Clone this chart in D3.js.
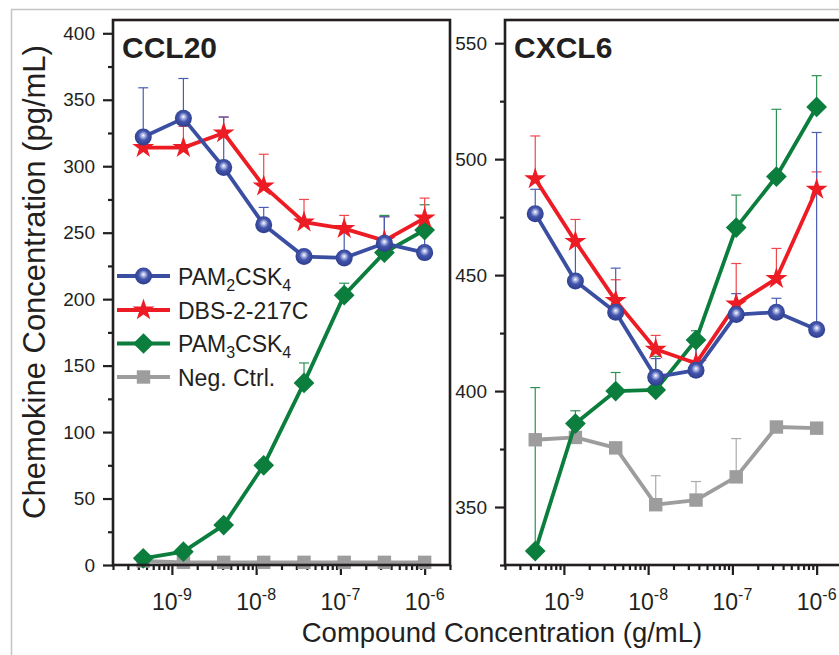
<!DOCTYPE html>
<html>
<head>
<meta charset="utf-8">
<script src="https://cdn.jsdelivr.net/npm/d3@7/dist/d3.min.js"></script>
<style>
  body { margin: 0; background: #fff; }
  svg { display: block; }
  text { font-family: "Liberation Sans", Arial, Helvetica, sans-serif; fill: #231f20; }
</style>
</head>
<body>
<svg id="chart" width="839" height="655"></svg>
<script>
// Three-fold dilution series of the compounds (g/mL)
const concentrations = [4.57e-10, 1.37e-9, 4.12e-9, 1.23e-8, 3.7e-8, 1.11e-7, 3.33e-7, 1e-6];

// CCL20 (pg/mL): means and upper SD
const ccl20Pam2 = [322, 336, 299, 256, 232, 231, 242, 235];
const ccl20Pam2Sd = [37, 30, 38, 13, 4, 24, 20, 27];
const ccl20Dbs = [314, 314, 325, 285, 258, 253, 244, 261];
const ccl20DbsSd = [11, 16, 12, 24, 17, 10, 18, 15];
const ccl20Pam3 = [5, 10, 30, 75, 137, 203, 235, 252];
const ccl20Pam3Sd = [2, 2, 3, 4, 15, 9, 28, 19];
const ccl20Neg = [3, 2, 2, 2, 2, 2, 2, 2];
const ccl20NegSd = [1, 1, 1, 1, 1, 1, 1, 1];

// CXCL6 (pg/mL): means and upper SD
const cxcl6Pam2 = [476.5, 447.5, 434, 406, 409, 433, 434, 426.5];
const cxcl6Pam2Sd = [10.5, 17.5, 19, 8, 12, 9, 6, 85];
const cxcl6Dbs = [491.5, 464.5, 439, 418, 412, 437.5, 448.5, 487];
const cxcl6DbsSd = [18.5, 9.5, 9, 6, 8, 17.5, 13, 7.5];
const cxcl6Pam3 = [331, 386, 400, 400.5, 422, 470.5, 492.5, 522.5];
const cxcl6Pam3Sd = [70.5, 5.5, 8, 14.5, 4, 14, 29, 13.5];
const cxcl6Neg = [379, 380, 375.5, 351, 353, 363, 384.5, 384];
const cxcl6NegSd = [1, 5, 1.5, 12.5, 8, 16.5, 1.5, 1];

// Axis ticks
const xMajorTicks = [1e-9, 1e-8, 1e-7, 1e-6];
const xTickExponents = ["-9", "-8", "-7", "-6"];
const ccl20Ticks = [0, 50, 100, 150, 200, 250, 300, 350, 400];
const ccl20MinorTicks = [25, 75, 125, 175, 225, 275, 325, 375];
const cxcl6Ticks = [350, 400, 450, 500, 550];
const cxcl6MinorTicks = [325, 375, 425, 475, 525];

// Legend
const legendLabels = [["PAM", "2", "CSK", "4"], ["DBS-2-217C"], ["PAM", "3", "CSK", "4"], ["Neg. Ctrl."]];

const svg = d3.select("#chart");

// figure frame
svg.append("line").attr("x1", 11.5).attr("x2", 11.5).attr("y1", 9).attr("y2", 655)
  .attr("stroke", "#c4c4c4").attr("stroke-width", 1.5);
svg.append("line").attr("x1", 11).attr("x2", 839).attr("y1", 9.5).attr("y2", 9.5)
  .attr("stroke", "#c4c4c4").attr("stroke-width", 1.5);

const defs = svg.append("defs");
const grad = defs.append("radialGradient").attr("id", "ball")
  .attr("cx", "50%").attr("cy", "45%").attr("r", "55%").attr("fx", "50%").attr("fy", "40%");
grad.append("stop").attr("offset", "0%").attr("stop-color", "#ffffff");
grad.append("stop").attr("offset", "18%").attr("stop-color", "#b8c0ea");
grad.append("stop").attr("offset", "50%").attr("stop-color", "#4456ac");
grad.append("stop").attr("offset", "100%").attr("stop-color", "#2c3c8e");

const styles = {
  pam2: { line: "#3a4ea2", err: "#4a5db3", kind: "circle" },
  dbs: { line: "#ed1c24", err: "#f0474d", kind: "star" },
  pam3: { line: "#0b7d3c", err: "#2d9155", kind: "diamond" },
  neg: { line: "#9d9d9d", err: "#ababab", kind: "square" }
};

function drawMarker(g, kind, x, y) {
  if (kind === "circle") {
    g.append("circle").attr("cx", x).attr("cy", y).attr("r", 8.5).attr("fill", "url(#ball)");
  } else if (kind === "star") {
    g.append("path").attr("d", d3.symbol(d3.symbolStar, 150)())
      .attr("transform", `translate(${x},${y})`).attr("fill", "#ed1c24");
  } else if (kind === "diamond") {
    g.append("path").attr("d", d3.symbol(d3.symbolSquare, 215)())
      .attr("transform", `translate(${x},${y}) rotate(45)`).attr("fill", "#0b7d3c");
  } else {
    g.append("path").attr("d", d3.symbol(d3.symbolSquare, 180)())
      .attr("transform", `translate(${x},${y})`).attr("fill", "#9d9d9d");
  }
}

function drawPanel(opts) {
  const { left, top, width, height, yDomain, yTicks, yMinor, title, series } = opts;
  const g = svg.append("g");
  const x = d3.scaleLog().domain([2e-10, 2e-6]).range([left, left + width]);
  const y = d3.scaleLinear().domain(yDomain).range([top + height, top]);

  // y axis ticks
  const yMaj = g.append("g").attr("transform", `translate(${left},0)`)
    .call(d3.axisLeft(y).tickValues(yTicks).tickSize(10).tickPadding(8).tickFormat(d3.format("d")));
  const yMin = g.append("g").attr("transform", `translate(${left},0)`)
    .call(d3.axisLeft(y).tickValues(yMinor).tickSize(5).tickFormat(""));
  // x axis ticks
  const xMinorVals = [];
  for (let e = -10; e <= -6; e++) {
    for (let m = 2; m <= 9; m++) {
      const v = m * Math.pow(10, e);
      if (v >= 2e-10 && v <= 2e-6) xMinorVals.push(v);
    }
  }
  const xMaj = g.append("g").attr("transform", `translate(0,${top + height})`)
    .call(d3.axisBottom(x).tickValues(xMajorTicks).tickSize(10).tickFormat(""));
  const xMin = g.append("g").attr("transform", `translate(0,${top + height})`)
    .call(d3.axisBottom(x).tickValues(xMinorVals).tickSize(5).tickFormat(""));
  [yMaj, yMin, xMaj, xMin].forEach(a => {
    a.select(".domain").remove();
    a.selectAll(".tick line").attr("stroke", "#231f20").attr("stroke-width", 2.2);
  });
  yMaj.selectAll(".tick text").attr("font-size", 19).attr("fill", "#231f20")
    .style("font-family", "'Liberation Sans', Arial, sans-serif");

  // x tick labels with superscript exponents
  xMajorTicks.forEach((v, i) => {
    const t = g.append("text").attr("x", x(v)).attr("y", top + height + 45)
      .attr("text-anchor", "middle").attr("font-size", 23);
    t.append("tspan").text("10");
    t.append("tspan").attr("font-size", 16).attr("dy", -10).text(xTickExponents[i]);
  });

  // error bars (upper only)
  series.forEach(s => {
    const st = styles[s.key];
    s.values.forEach((v, i) => {
      const cx = x(concentrations[i]);
      const yTop = y(v + s.sd[i]);
      g.append("line").attr("x1", cx).attr("x2", cx).attr("y1", y(v)).attr("y2", yTop)
        .attr("stroke", st.err).attr("stroke-width", 1.2);
      g.append("line").attr("x1", cx - 5).attr("x2", cx + 5).attr("y1", yTop).attr("y2", yTop)
        .attr("stroke", st.err).attr("stroke-width", 1.2);
    });
  });

  // lines and markers
  series.forEach(s => {
    const st = styles[s.key];
    const line = d3.line().x((d, i) => x(concentrations[i])).y(d => y(d));
    g.append("path").attr("d", line(s.values)).attr("fill", "none")
      .attr("stroke", st.line).attr("stroke-width", 3.8).attr("stroke-linejoin", "round");
    s.values.forEach((v, i) => drawMarker(g, st.kind, x(concentrations[i]), y(v)));
  });

  // frame
  g.append("rect").attr("x", left).attr("y", top).attr("width", width).attr("height", height)
    .attr("fill", "none").attr("stroke", "#231f20").attr("stroke-width", 2.6);

  g.append("text").attr("x", left + 9).attr("y", top + 38).attr("font-size", 30)
    .attr("font-weight", "bold").text(title);
  return { g, x, y };
}

drawPanel({
  left: 113, top: 20, width: 337, height: 545,
  yDomain: [0, 410], yTicks: ccl20Ticks, yMinor: ccl20MinorTicks, title: "CCL20",
  series: [
    { key: "neg", values: ccl20Neg, sd: ccl20NegSd },
    { key: "pam3", values: ccl20Pam3, sd: ccl20Pam3Sd },
    { key: "dbs", values: ccl20Dbs, sd: ccl20DbsSd },
    { key: "pam2", values: ccl20Pam2, sd: ccl20Pam2Sd }
  ]
});

drawPanel({
  left: 505, top: 20, width: 337, height: 545,
  yDomain: [325, 560], yTicks: cxcl6Ticks, yMinor: cxcl6MinorTicks, title: "CXCL6",
  series: [
    { key: "neg", values: cxcl6Neg, sd: cxcl6NegSd },
    { key: "pam3", values: cxcl6Pam3, sd: cxcl6Pam3Sd },
    { key: "dbs", values: cxcl6Dbs, sd: cxcl6DbsSd },
    { key: "pam2", values: cxcl6Pam2, sd: cxcl6Pam2Sd }
  ]
});

// legend
const legendKeys = ["pam2", "dbs", "pam3", "neg"];
const legendRows = [276, 310, 343.5, 377];
const lg = svg.append("g");
legendKeys.forEach((k, i) => {
  const yy = legendRows[i];
  lg.append("line").attr("x1", 117).attr("x2", 170).attr("y1", yy).attr("y2", yy)
    .attr("stroke", styles[k].line).attr("stroke-width", 3.8);
  drawMarker(lg, styles[k].kind, 143.5, yy);
  const t = lg.append("text").attr("x", 178).attr("y", yy + 8.5).attr("font-size", 23);
  const parts = legendLabels[i];
  parts.forEach((p, j) => {
    const sub = j % 2 === 1;
    const ts = t.append("tspan").text(p);
    if (sub) ts.attr("font-size", 16).attr("dy", 6);
    else if (j > 0) ts.attr("dy", -6);
  });
});

// axis titles
svg.append("text").attr("transform", "translate(45,282) rotate(-90)")
  .attr("text-anchor", "middle").attr("font-size", 31)
  .text("Chemokine Concentration (pg/mL)");
svg.append("text").attr("x", 502).attr("y", 642).attr("text-anchor", "middle")
  .attr("font-size", 27.5).text("Compound Concentration (g/mL)");
</script>
</body>
</html>
